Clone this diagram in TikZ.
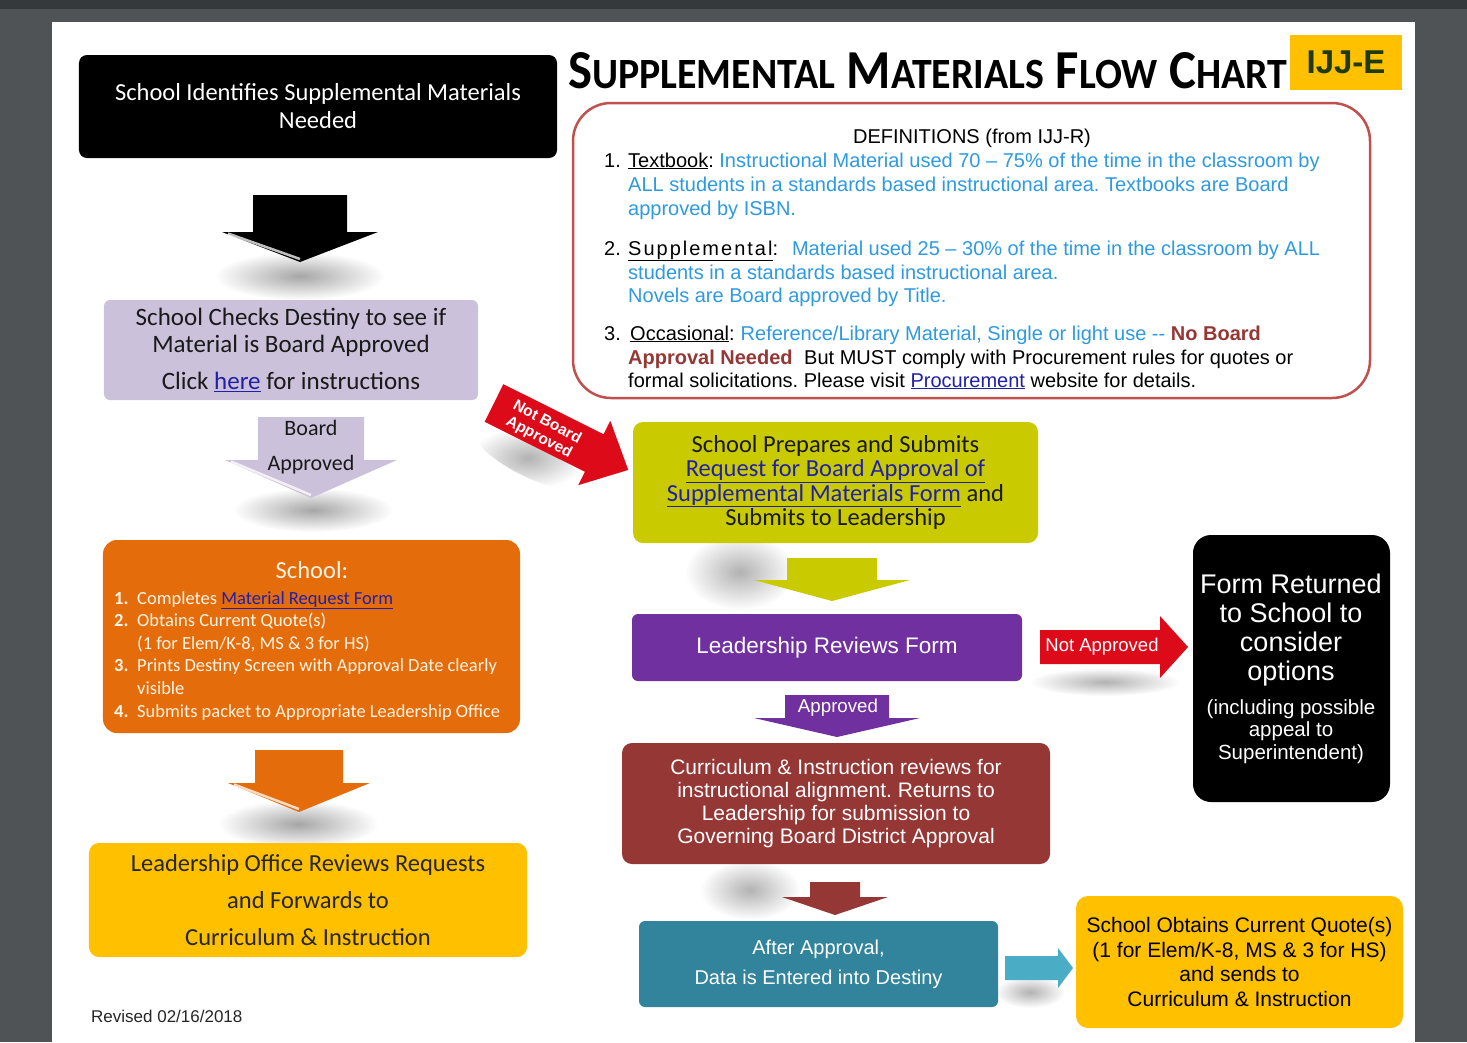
\documentclass[tikz,border=0pt]{standalone}
\usepackage{fontspec}
\usepackage{graphicx}
\setmainfont{Carlito}
\newfontfamily\arialfont{Liberation Sans}
\usetikzlibrary{fadings}
\frenchspacing

\definecolor{pagegrey}{HTML}{4F5356}
\definecolor{topgrey}{HTML}{36393C}
\definecolor{lavender}{HTML}{CCC1DA}
\definecolor{oliveyellow}{HTML}{CACA00}
\definecolor{boxviolet}{HTML}{7030A0}
\definecolor{brick}{HTML}{953735}
\definecolor{boxteal}{HTML}{31849B}
\definecolor{lightteal}{HTML}{4BACC6}
\definecolor{gold}{HTML}{FFC000}
\definecolor{pumpkin}{HTML}{E46C0A}
\definecolor{cream}{HTML}{FFF4E6}
\definecolor{alarm}{HTML}{DD0A1A}
\definecolor{frame}{HTML}{C0504D}
\definecolor{defblue}{HTML}{2E9AE0}
\definecolor{linkblue}{HTML}{2020A8}
\definecolor{ijjgreen}{HTML}{1F3A0C}

\newcommand\fsz[2]{\fontsize{#1bp}{#2bp}\selectfont}
\newcommand\weblink[1]{{\color{linkblue}\underline{#1}}}
\newcommand\smcap[1]{{\fontsize{44bp}{48bp}\selectfont #1}}

% block arrow pointing down: style, centre x, top y, shaft half width, head y, head half width, tip y
\newcommand\downblock[7]{%
  \fill[#1] (#2-#4,#3) -- (#2+#4,#3) -- (#2+#4,#5) -- (#2+#6,#5)
    -- (#2,#7) -- (#2-#6,#5) -- (#2-#4,#5) -- cycle;}
% light bevel on the left flank of a down arrow head: centre x, head y, head half width, tip y
\newcommand\downbevel[4]{%
  \draw[white, opacity=.75, line width=2.5bp] (#1-#3+6,#2+1.5) -- (#1,#4-3);}
% block arrow pointing right: style, centre y, left x, shaft half width, head x, head half width, tip x
\newcommand\rightblock[7]{%
  \fill[#1] (#3,#2-#4) -- (#5,#2-#4) -- (#5,#2-#6) -- (#7,#2)
    -- (#5,#2+#6) -- (#5,#2+#4) -- (#3,#2+#4) -- cycle;}

\tikzfading[name=softedge, inner color=transparent!0, outer color=transparent!100]

\tikzset{
  box/.style={rounded corners=#1, inner sep=0pt, align=center},
  box/.default=8bp,
  deftext/.style={inner sep=0pt, anchor=base west, font=\arialfont\fsz{20}{24}},
  blob/.style={fill=black, opacity=#1, path fading=softedge},
  blob/.default=.35,
}

\begin{document}
\begin{tikzpicture}[x=1bp, y=-1bp]
 % viewer background and page
 \useasboundingbox (0,0) rectangle (1467,1042);
 \fill[pagegrey] (0,0) rectangle (1467,1042);
 \fill[topgrey] (0,0) rectangle (1467,9);
 \fill[white] (52,22) rectangle (1415,1042);

 % soft shadows
 \fill[blob] (300,276) ellipse (85 and 24);
 \fill[blob] (313,510) ellipse (80 and 22);
 \fill[blob] (298,824) ellipse (80 and 24);
 \fill[blob=.3] (740,572) ellipse (55 and 38);
 \fill[blob=.3] (750,890) ellipse (50 and 30);
 \fill[blob=.3, rotate around={-27:(528,458)}] (528,458) ellipse (60 and 18);
 \fill[blob=.3] (1105,682) ellipse (75 and 14);
 \fill[blob=.3] (1030,992) ellipse (35 and 16);

 % left column
 \node[box, fill=black, text=white, minimum width=478bp, minimum height=103bp,
   font=\fsz{24.5}{28}] (ident) at (318,106.5)
   {School Identifies Supplemental Materials\\Needed};
 \node[box=6bp, fill=lavender, text=black!90, minimum width=374bp, minimum height=100bp,
   font=\fsz{25}{27}] (check) at (291,350)
   {School Checks Destiny to see if\\Material is Board Approved\\[10bp]Click \weblink{here} for instructions};
 \node[box=14bp, fill=pumpkin, minimum width=417bp, minimum height=193bp] (school) at (311.5,636.5) {};
 \node[text=cream, font=\fsz{24.5}{28}] (schoolhead) at (312,570) {School:};
 \node[inner sep=0pt, anchor=north west, align=left, text=cream, font=\fsz{18.5}{22.6}] (steps) at (114,591)
   {\makebox[23bp][l]{\textbf{1.}}Completes \weblink{Material Request Form}\\
    \makebox[23bp][l]{\textbf{2.}}Obtains Current Quote(s)\\
    \hspace*{23bp}(1 for Elem/K-8, MS \& 3 for HS)\\
    \makebox[23bp][l]{\textbf{3.}}Prints Destiny Screen with Approval Date clearly\\
    \hspace*{23bp}visible\\
    \makebox[23bp][l]{\textbf{4.}}Submits packet to Appropriate Leadership Office};
 \node[box=10bp, fill=gold, text=black!85, minimum width=438bp, minimum height=114bp,
   font=\fsz{24.5}{37}] (office) at (308,900)
   {Leadership Office Reviews Requests\\and Forwards to\\Curriculum \& Instruction};

 % middle column
 \node[box=10bp, fill=oliveyellow, text=black!90, minimum width=405bp, minimum height=121bp,
   font=\fsz{24.5}{24.3}] (submit) at (835.5,482.5)
   {School Prepares and Submits\\\weblink{Request for Board Approval of}\\\weblink{Supplemental Materials Form} and\\Submits to Leadership};
 \node[box=6bp, fill=boxviolet, text=white, minimum width=390bp, minimum height=67bp,
   font=\arialfont\fsz{22.5}{26}] (review) at (827,647.5) {Leadership Reviews Form};
 \node[box=10bp, fill=brick, text=white, minimum width=428bp, minimum height=121bp,
   font=\arialfont\fsz{21}{23}] (curric) at (836,803.5)
   {Curriculum \& Instruction reviews for\\instructional alignment. Returns to\\Leadership for submission to\\Governing Board District Approval};
 \node[box=6bp, fill=boxteal, text=white, minimum width=359bp, minimum height=86bp,
   font=\arialfont\fsz{20}{30}] (entered) at (818.5,964)
   {After Approval,\\Data is Entered into Destiny};

 % right column
 \node[box=18bp, fill=black, minimum width=197bp, minimum height=267bp] (returned) at (1291.5,668.5) {};
 \node[text=white, align=center, font=\arialfont\fsz{27}{29.3}] (returnedtop) at (1291,630)
   {Form Returned\\to School to\\consider\\options};
 \node[text=white, align=center, font=\arialfont\fsz{20.5}{22.7}] (returnednote) at (1291,731.5)
   {(including possible\\appeal to\\Superintendent)};
 \node[box=12bp, fill=gold, text=black, minimum width=327bp, minimum height=132bp,
   font=\arialfont\fsz{21}{24.7}] (quotes) at (1239.5,962)
   {School Obtains Current Quote(s)\\(1 for Elem/K-8, MS \& 3 for HS)\\and sends to\\Curriculum \& Instruction};

 % block arrows
 \downblock{fill=black}{300}{195}{47}{232}{78}{262}
 \downbevel{300}{232}{78}{262}
 \downblock{fill=lavender}{311}{417}{53}{460}{86}{498}
 \downbevel{311}{460}{86}{498}
 \node[font=\fsz{22}{35}, align=center, text=black!90] (boardok) at (311,447.5) {Board\\Approved};
 \downblock{fill=pumpkin}{299}{750}{44}{783}{71}{812}
 \downbevel{299}{783}{71}{812}
 \downblock{fill=oliveyellow}{832}{558}{45}{580}{78}{601}
 \downblock{fill=boxviolet}{837}{695}{52}{718}{83}{737}
 \node[text=white, font=\arialfont\fsz{18.7}{20}] (approved) at (838,708) {Approved};
 \downblock{fill=brick}{835}{882}{25}{897}{53}{915}
 \rightblock{fill=alarm}{647}{1040}{17}{1160}{31}{1188}
 \node[text=white, font=\arialfont\fsz{18.5}{20}] (notok) at (1102,647) {Not Approved};
 \rightblock{fill=lightteal}{968}{1005}{12}{1058}{20}{1073}
 \begin{scope}[shift={(494,403)}, rotate=-26.5]
  \rightblock{fill=alarm}{0}{0}{21}{112}{36}{150}
 \end{scope}
 \node[text=white, rotate=-28, align=center, font=\arialfont\bfseries\fsz{15.5}{17}] (notboard) at (543,430)
   {Not Board\\Approved};

 % heading
 \node[anchor=base west, inner sep=0pt, font=\fsz{56}{60}\bfseries] (title) at (568,88)
   {\resizebox{719bp}{36bp}{S\smcap{UPPLEMENTAL} M\smcap{ATERIALS} F\smcap{LOW} C\smcap{HART}}};
 \node[fill=gold, minimum width=112bp, minimum height=55bp, inner sep=0pt, text=ijjgreen,
   font=\arialfont\bfseries\fsz{33}{36}] (code) at (1346,62.5) {IJJ-E};

 % definitions panel
 \node[draw=frame, line width=2.5bp, rounded corners=38bp, fill=white,
   minimum width=797bp, minimum height=295bp] (defs) at (971.5,250.5) {};
 \node[deftext, anchor=base] (defhead) at (972,143) {DEFINITIONS (from IJJ-R)};
 \node[deftext] (d1) at (604,167) {1.};
 \node[deftext] (d1a) at (628,167)
   {\underline{Textbook}: \textcolor{defblue}{Instructional Material used 70 – 75\% of the time in the classroom by}};
 \node[deftext, text=defblue] (d1b) at (628,191)
   {ALL students in a standards based instructional area. Textbooks are Board};
 \node[deftext, text=defblue] (d1c) at (628,215) {approved by ISBN.};
 \node[deftext] (d2) at (604,255) {2.};
 \node[deftext] (d2a) at (628,255)
   {{\addfontfeature{LetterSpace=10}\underline{Supplemental}}:\hspace{14bp}\textcolor{defblue}{Material used 25 – 30\% of the time in the classroom by ALL}};
 \node[deftext, text=defblue] (d2b) at (628,279) {students in a standards based instructional area.};
 \node[deftext, text=defblue] (d2c) at (628,302) {Novels are Board approved by Title.};
 \node[deftext] (d3) at (604,340) {3.};
 \node[deftext] (d3a) at (630,340)
   {\underline{Occasional}:\hspace{6bp}\textcolor{defblue}{Reference/Library Material, Single or light use --} \textcolor{brick}{\bfseries No Board}};
 \node[deftext] (d3b) at (628,364)
   {\textcolor{brick}{\bfseries Approval Needed}\hspace{6bp} But MUST comply with Procurement rules for quotes or};
 \node[deftext] (d3c) at (628,387)
   {formal solicitations. Please visit \weblink{Procurement} website for details.};

 \node[anchor=base west, inner sep=0pt, font=\arialfont\fsz{17}{20}, text=black!85] (revised) at (91,1022)
   {Revised 02/16/2018};
\end{tikzpicture}
\end{document}
